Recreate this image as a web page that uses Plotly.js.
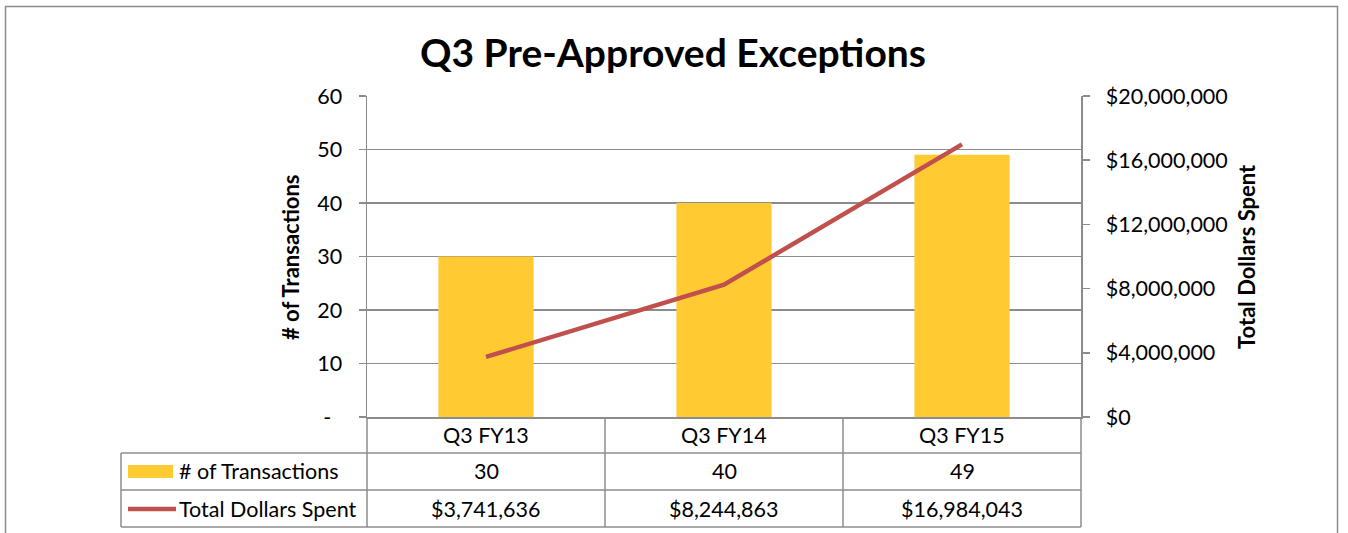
<!DOCTYPE html>
<html>
<head>
<meta charset="utf-8">
<script src="https://cdn.plot.ly/plotly-3.0.1.min.js"></script>
<style>html,body{margin:0;padding:0;background:#fff;}#chart{width:1348px;height:533px;}</style>
</head>
<body>
<div id="chart"></div>
<script>
// ---- data ----
const categories = ["Q3 FY13", "Q3 FY14", "Q3 FY15"];
const transactions = [30, 40, 49];
const dollarsSpent = [3741636, 8244863, 16984043];
const leftTickVals = [0, 10, 20, 30, 40, 50, 60];
const leftTickText = ["-\u00a0\u00a0", "10", "20", "30", "40", "50", "60"];
const rightTickVals = [0, 4000000, 8000000, 12000000, 16000000, 20000000];
const seriesNames = ["# of Transactions", "Total Dollars Spent"];
const chartTitle = "Q3 Pre-Approved Exceptions";

// ---- geometry (pixels) ----
const W = 1348, H = 533;
const L = 367, R = 1081, T = 96, B = 417;
const PW = R - L, PH = B - T;
const px = x => (x - L) / PW;
const py = y => (B - y) / PH;

const FONT = "Lato, 'Open Sans', sans-serif";
const GRID = "#8c8c8c";
const BAR = "#FFCA32";
const LINE = "#C0504D";

const fmtMoney = v => "$" + v.toLocaleString("en-US");
const rightTickText = rightTickVals.map(fmtMoney);

const traces = [
  {
    type: "bar", x: categories, y: transactions, name: seriesNames[0],
    marker: {color: BAR}, width: 0.4, yaxis: "y", hoverinfo: "skip"
  },
  {
    type: "scatter", mode: "lines", x: categories, y: dollarsSpent, name: seriesNames[1],
    line: {color: LINE, width: 4.5}, yaxis: "y2", hoverinfo: "skip"
  }
];

// table lines
const lc = {color: GRID, width: 1.5};
const shapes = [];
const hline = (x0, x1, y) => shapes.push({type: "line", xref: "paper", yref: "paper", x0: px(x0), x1: px(x1), y0: py(y), y1: py(y), line: lc});
const vline = (x, y0, y1) => shapes.push({type: "line", xref: "paper", yref: "paper", x0: px(x), x1: px(x), y0: py(y0), y1: py(y1), line: lc});
hline(121, 1081, 453);
hline(121, 1081, 490);
hline(121, 1081, 527);
vline(121, 453, 527);
vline(367, 417, 527);
vline(605, 417, 527);
vline(843, 417, 527);
vline(1081, 417, 527);
// outer chart border
shapes.push({type: "rect", xref: "paper", yref: "paper", x0: px(5.5), x1: px(1337.5), y0: py(6.5), y1: py(560), line: {color: GRID, width: 1.5}});
// legend keys in table
shapes.push({type: "rect", xref: "paper", yref: "paper", x0: px(128), x1: px(173), y0: py(465), y1: py(478), fillcolor: BAR, line: {width: 0}});
shapes.push({type: "line", xref: "paper", yref: "paper", x0: px(128), x1: px(176), y0: py(509), y1: py(509), line: {color: LINE, width: 4.5}});

const annotations = [];
const cellFont = {family: FONT, size: 21.5, color: "#000"};
categories.forEach((c, i) => {
  annotations.push({xref: "x", yref: "paper", x: c, y: py(435), text: c, showarrow: false, font: cellFont, xanchor: "center", yanchor: "middle"});
  annotations.push({xref: "x", yref: "paper", x: c, y: py(471), text: String(transactions[i]), showarrow: false, font: cellFont, xanchor: "center", yanchor: "middle"});
  annotations.push({xref: "x", yref: "paper", x: c, y: py(508.5), text: fmtMoney(dollarsSpent[i]), showarrow: false, font: cellFont, xanchor: "center", yanchor: "middle"});
});
annotations.push({xref: "paper", yref: "paper", x: px(177), y: py(471), text: seriesNames[0], showarrow: false, font: cellFont, xanchor: "left", yanchor: "middle"});
annotations.push({xref: "paper", yref: "paper", x: px(177), y: py(508.5), text: seriesNames[1], showarrow: false, font: cellFont, xanchor: "left", yanchor: "middle"});
// axis titles
const axTitleFont = {family: FONT, size: 22, color: "#000"};
annotations.push({xref: "paper", yref: "paper", x: px(290), y: py(257), text: "<b>" + seriesNames[0] + "</b>", textangle: -90, showarrow: false, font: axTitleFont, xanchor: "center", yanchor: "middle"});
annotations.push({xref: "paper", yref: "paper", x: px(1246), y: py(257), text: "<b>" + seriesNames[1] + "</b>", textangle: -90, showarrow: false, font: axTitleFont, xanchor: "center", yanchor: "middle"});

const tickFont = {family: FONT, size: 21.5, color: "#000"};

const layout = {
  width: W, height: H,
  margin: {l: L, r: W - R, t: T, b: H - B, pad: 0},
  paper_bgcolor: "#fff", plot_bgcolor: "#fff",
  showlegend: false,
  title: {text: "<b>" + chartTitle + "</b>", font: {family: FONT, size: 39, color: "#000"}, x: 673 / W, xanchor: "center", y: 1 - 53 / H, yanchor: "middle", xref: "container", yref: "container"},
  xaxis: {
    type: "category", range: [-0.5, 2.5], showticklabels: false, ticks: "",
    showline: true, linecolor: GRID, linewidth: 1.5, showgrid: false, zeroline: false, fixedrange: true
  },
  yaxis: {
    range: [0, 60], tickvals: leftTickVals, ticktext: leftTickText,
    ticks: "outside", ticklen: 7, tickcolor: GRID, tickwidth: 1.5,
    showline: true, linecolor: GRID, linewidth: 1.5,
    showgrid: true, gridcolor: GRID, gridwidth: 1.5, zeroline: false,
    tickfont: tickFont, ticklabelstandoff: 12, fixedrange: true
  },
  yaxis2: {
    overlaying: "y", side: "right", range: [0, 20000000], tickvals: rightTickVals, ticktext: rightTickText,
    ticks: "outside", ticklen: 7, tickcolor: GRID, tickwidth: 1.5,
    showline: true, linecolor: GRID, linewidth: 1.5,
    showgrid: false, zeroline: false,
    tickfont: tickFont, ticklabelstandoff: 12, fixedrange: true
  },
  shapes: shapes,
  annotations: annotations
};

Plotly.newPlot("chart", traces, layout, {displayModeBar: false, staticPlot: true});
</script>
</body>
</html>
